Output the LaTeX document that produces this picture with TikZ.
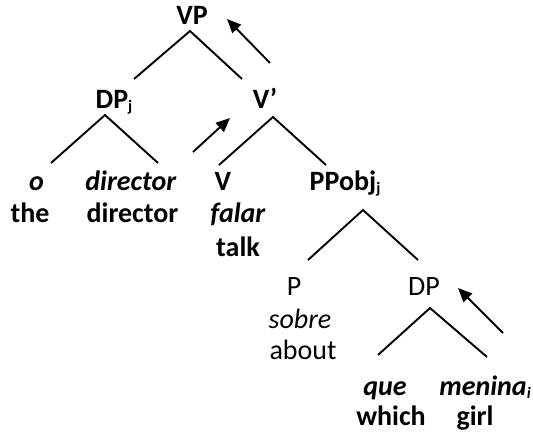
\documentclass[tikz,border=0pt]{standalone}
\usepackage{fontspec}
\setmainfont{Carlito}
\usetikzlibrary{arrows.meta}
\newcommand{\sbj}[1]{\raisebox{-3.5pt}{\fontsize{16}{16}\selectfont #1}}
\begin{document}
\begin{tikzpicture}[x=1pt,y=-1pt,
  lbl/.style={inner sep=0pt, anchor=base, font=\fontsize{28}{30}\selectfont},
  branch/.style={line width=1.9pt},
  mv/.style={line width=1.9pt,-{Triangle[length=14pt,width=12pt]}}]
\useasboundingbox (0,0) rectangle (533,434);
% labels
\node[lbl] (vp) at (192,24) {\textbf{VP}};
\node[lbl] (dpj) at (114,108) {\textbf{DP\sbj{j}}};
\node[lbl] (vbar) at (265,108) {\textbf{V’}};
\node[lbl] (o) at (36.5,190) {\textbf{\textit{o}}};
\node[lbl] (dirit) at (131,190) {\textbf{\textit{director}}};
\node[lbl] (v) at (223,190) {\textbf{V}};
\node[lbl] (pp) at (345,190) {\textbf{PPobj\sbj{j}}};
\node[lbl] (the) at (30,222) {\textbf{the}};
\node[lbl] (dir) at (132.5,222) {\textbf{director}};
\node[lbl] (falar) at (238,222) {\textbf{\textit{falar}}};
\node[lbl] (talk) at (238,256) {\textbf{talk}};
\node[lbl] (p) at (294,295) {P};
\node[lbl] (dp) at (424,295) {DP};
\node[lbl] (sobre) at (300,328) {\textit{sobre}};
\node[lbl] (about) at (303,359) {about};
\node[lbl] (que) at (385,395) {\textbf{\textit{que}}};
\node[lbl] (menina) at (485,395) {\textbf{\textit{menina}\sbj{\textit{i}}}};
\node[lbl] (which) at (391,425) {\textbf{which}};
\node[lbl] (girl) at (475,425) {\textbf{girl}};
% branch points
\coordinate (vpA) at (190,31); \coordinate (vpL) at (134,79); \coordinate (vpR) at (242,79);
\coordinate (dA) at (105,115); \coordinate (dL) at (51,163); \coordinate (dR) at (158,163);
\coordinate (vA) at (273,117); \coordinate (vL) at (219,165); \coordinate (vR) at (326,165);
\coordinate (pA) at (363,210); \coordinate (pL) at (308,260); \coordinate (pR) at (418,260);
\coordinate (qA) at (430,308); \coordinate (qL) at (378,355); \coordinate (qR) at (487,357);
\draw[branch] (vpL) -- (vpA) -- (vpR);
\draw[branch] (dL) -- (dA) -- (dR);
\draw[branch] (vL) -- (vA) -- (vR);
\draw[branch] (pL) -- (pA) -- (pR);
\draw[branch] (qL) -- (qA) -- (qR);
% movement arrows
\coordinate (m1s) at (270,63); \coordinate (m1e) at (227,19);
\coordinate (m2s) at (193,152); \coordinate (m2e) at (230,118);
\coordinate (m3s) at (503,333); \coordinate (m3e) at (458,288);
\draw[mv] (m1s) -- (m1e);
\draw[mv] (m2s) -- (m2e);
\draw[mv] (m3s) -- (m3e);
\end{tikzpicture}
\end{document}
